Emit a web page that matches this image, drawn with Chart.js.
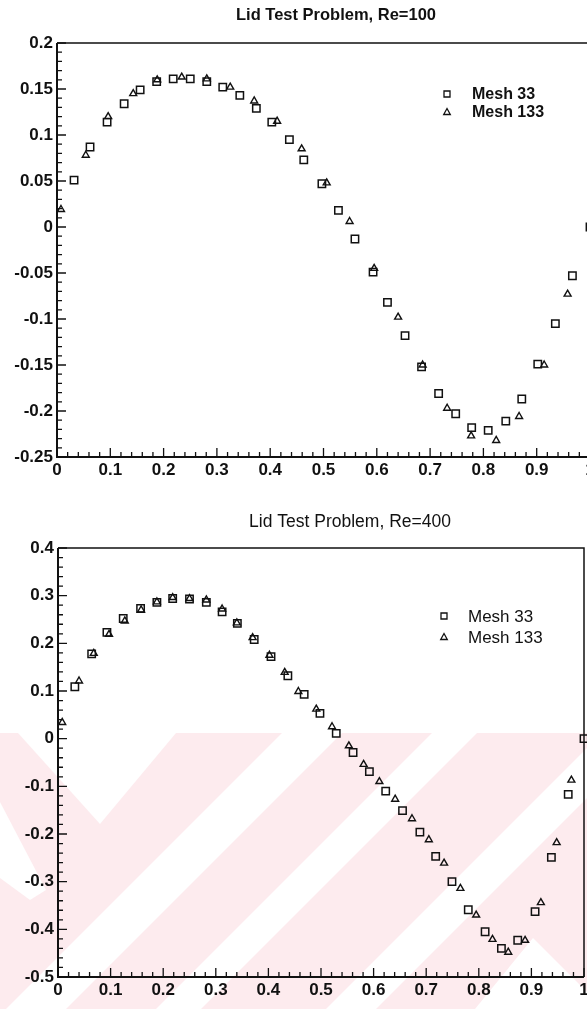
<!DOCTYPE html>
<html>
<head>
<meta charset="utf-8">
<script src="https://cdn.jsdelivr.net/npm/chart.js@4.4.0/dist/chart.umd.min.js"></script>
<style>
  html, body { margin: 0; padding: 0; background: #fff; overflow: hidden; width: 587px; height: 1009px; }
  #wm { position: absolute; left: 0; top: 0; }
  canvas { position: absolute; left: 0; }
  #c100 { top: 0; }
  #c400 { top: 490px; }
</style>
</head>
<body>
<svg id="wm" width="587" height="1009" viewBox="0 0 587 1009">
  <rect x="0" y="733" width="587" height="276" fill="#fdebee"/>
  <g fill="#fff">
    <polygon points="18,733 100,824 176,733"/>
    <polygon points="0,802 46,890 30,900 0,878"/>
    <polygon points="282,733 342,733 66,1009 6,1009"/>
    <polygon points="432,733 477,733 201,1009 156,1009"/>
    <polygon points="587,748 587,798 376,1009 326,1009"/>
    <polygon points="475,1009 533,938 587,992 587,1009"/>
  </g>
</svg>
<canvas id="c100" width="600" height="490"></canvas>
<canvas id="c400" width="600" height="519"></canvas>
<script>
// x ticks shared by both plots
const xTickValues = [0, 0.1, 0.2, 0.3, 0.4, 0.5, 0.6, 0.7, 0.8, 0.9, 1];
const xTickLabels = ['0', '0.1', '0.2', '0.3', '0.4', '0.5', '0.6', '0.7', '0.8', '0.9', '1'];

// Re=100
const re100YTicks = [0.2, 0.15, 0.1, 0.05, 0, -0.05, -0.1, -0.15, -0.2, -0.25];
const re100YLabels = ['0.2', '0.15', '0.1', '0.05', '0', '-0.05', '-0.1', '-0.15', '-0.2', '-0.25'];
const re100Mesh33X = [0.032, 0.062, 0.094, 0.126, 0.156, 0.187, 0.218, 0.250, 0.281, 0.311, 0.343, 0.374, 0.403, 0.436, 0.463, 0.497,
  0.528, 0.559, 0.593, 0.620, 0.653, 0.684, 0.716, 0.748, 0.778, 0.809, 0.842, 0.872, 0.902, 0.935, 0.967, 1.0];
const re100Mesh33Y = [0.051, 0.087, 0.114, 0.134, 0.149, 0.158, 0.161, 0.161, 0.158, 0.152, 0.143, 0.129, 0.114, 0.095, 0.073, 0.047,
  0.018, -0.013, -0.049, -0.082, -0.118, -0.152, -0.181, -0.203, -0.218, -0.221, -0.211, -0.187, -0.149, -0.105, -0.053, 0.0];
const re100Mesh133X = [0.0075, 0.054, 0.096, 0.143, 0.188, 0.234, 0.281, 0.325, 0.370, 0.413, 0.459, 0.506, 0.549, 0.595, 0.640,
  0.686, 0.732, 0.777, 0.824, 0.867, 0.914, 0.958];
const re100Mesh133Y = [0.019, 0.078, 0.120, 0.145, 0.160, 0.163, 0.161, 0.152, 0.137, 0.115, 0.085, 0.048, 0.006, -0.045, -0.098,
  -0.150, -0.197, -0.227, -0.232, -0.206, -0.150, -0.073];

// Re=400
const re400YTicks = [0.4, 0.3, 0.2, 0.1, 0, -0.1, -0.2, -0.3, -0.4, -0.5];
const re400YLabels = ['0.4', '0.3', '0.2', '0.1', '0', '-0.1', '-0.2', '-0.3', '-0.4', '-0.5'];
const re400Mesh33X = [0.032, 0.064, 0.093, 0.124, 0.157, 0.188, 0.218, 0.250, 0.282, 0.312, 0.341, 0.373, 0.405, 0.437, 0.468, 0.498,
  0.529, 0.561, 0.592, 0.623, 0.655, 0.688, 0.718, 0.749, 0.780, 0.812, 0.843, 0.874, 0.907, 0.938, 0.970, 1.0];
const re400Mesh33Y = [0.109, 0.178, 0.223, 0.252, 0.273, 0.286, 0.294, 0.293, 0.286, 0.266, 0.242, 0.208, 0.172, 0.132, 0.093, 0.053,
  0.011, -0.029, -0.069, -0.110, -0.151, -0.196, -0.247, -0.300, -0.359, -0.405, -0.440, -0.423, -0.363, -0.249, -0.117, 0.0];
const re400Mesh133X = [0.008, 0.040, 0.068, 0.097, 0.127, 0.158, 0.188, 0.218, 0.250, 0.282, 0.312, 0.340, 0.370, 0.402, 0.431,
  0.457, 0.491, 0.521, 0.553, 0.581, 0.611, 0.641, 0.673, 0.705, 0.734, 0.765, 0.795, 0.826, 0.856, 0.888, 0.918, 0.948, 0.976];
const re400Mesh133Y = [0.034, 0.121, 0.179, 0.219, 0.247, 0.270, 0.287, 0.296, 0.294, 0.291, 0.272, 0.243, 0.212, 0.175, 0.139,
  0.099, 0.062, 0.025, -0.015, -0.054, -0.090, -0.127, -0.168, -0.212, -0.261, -0.314, -0.370, -0.421, -0.448, -0.423, -0.344, -0.218, -0.087];

const ink = '#111';
const pts = (xs, ys) => xs.map((x, i) => ({ x: x, y: ys[i] }));

// frame, inward ticks, title and legend
const framePlugin = {
  id: 'frame',
  afterDraw(chart, args, o) {
    const { ctx, chartArea: a, scales } = chart;
    ctx.save();
    ctx.strokeStyle = ink;
    ctx.lineWidth = 2;
    ctx.beginPath();
    ctx.moveTo(a.left, a.top); ctx.lineTo(a.left, a.bottom); ctx.lineTo(a.right, a.bottom);
    ctx.stroke();
    ctx.lineWidth = 1.5;
    ctx.beginPath();
    ctx.moveTo(a.left, a.top); ctx.lineTo(a.right, a.top); ctx.lineTo(a.right, a.bottom);
    ctx.stroke();

    const marks = (scale) => {
      const t = scale.ticks.map(k => k.value).sort((p, q) => p - q);
      const out = [];
      for (let i = 0; i < t.length; i++) {
        out.push([t[i], true]);
        if (i < t.length - 1) for (let j = 1; j < 5; j++) out.push([t[i] + (t[i + 1] - t[i]) * j / 5, false]);
      }
      return out;
    };
    ctx.lineWidth = 1.3;
    ctx.beginPath();
    marks(scales.x).forEach(([v, major]) => {
      const px = scales.x.getPixelForValue(v);
      ctx.moveTo(px, a.bottom); ctx.lineTo(px, a.bottom - (major ? 9 : 5));
    });
    marks(scales.y).forEach(([v, major]) => {
      const py = scales.y.getPixelForValue(v);
      ctx.moveTo(a.left, py); ctx.lineTo(a.left + (major ? 9 : 5), py);
    });
    ctx.stroke();

    // title
    ctx.fillStyle = ink;
    ctx.textAlign = 'center';
    ctx.textBaseline = 'alphabetic';
    ctx.font = o.titleFont;
    ctx.fillText(o.title, o.titleX, o.titleY);

    // legend
    ctx.textAlign = 'left';
    ctx.font = o.legendFont;
    ctx.lineWidth = 1.3;
    chart.data.datasets.forEach((ds, i) => {
      const mx = o.legendX, my = o.legendY[i];
      ctx.beginPath();
      if (ds.pointStyle === 'rect') {
        ctx.rect(mx - 3, my - 3, 6, 6);
      } else {
        ctx.moveTo(mx, my - 3.5); ctx.lineTo(mx + 3.3, my + 2.5); ctx.lineTo(mx - 3.3, my + 2.5); ctx.closePath();
      }
      ctx.stroke();
      ctx.fillText(ds.label, o.legendTextX, o.legendTextY[i]);
    });
    ctx.restore();
  }
};

function makeChart(id, cfg) {
  return new Chart(document.getElementById(id), {
    type: 'scatter',
    data: {
      datasets: [
        { label: 'Mesh 33', data: pts(cfg.x33, cfg.y33), pointStyle: 'rect', pointRadius: 5.2,
          borderColor: ink, backgroundColor: 'rgba(0,0,0,0)', pointBorderWidth: 1.5, clip: false },
        { label: 'Mesh 133', data: pts(cfg.x133, cfg.y133), pointStyle: 'triangle', pointRadius: 4,
          borderColor: ink, backgroundColor: 'rgba(0,0,0,0)', pointBorderWidth: 1.4, clip: false }
      ]
    },
    options: {
      responsive: false,
      animation: false,
      events: [],
      layout: { padding: cfg.padding },
      plugins: {
        legend: { display: false },
        title: { display: false },
        tooltip: { enabled: false },
        frame: cfg.frame
      },
      scales: {
        x: {
          type: 'linear', min: 0, max: 1,
          grid: { display: false, drawTicks: false },
          border: { display: false },
          afterBuildTicks: s => { s.ticks = xTickValues.map(v => ({ value: v })); },
          afterFit: s => { s.height = cfg.xHeight; },
          ticks: {
            padding: 3, color: ink, maxRotation: 0, autoSkip: false,
            font: { family: 'Liberation Sans, Arial', size: 17, weight: 'bold' },
            callback: (v, i) => xTickLabels[i]
          }
        },
        y: {
          type: 'linear', min: cfg.yTicks[cfg.yTicks.length - 1], max: cfg.yTicks[0],
          grid: { display: false, drawTicks: false },
          border: { display: false },
          afterBuildTicks: s => { s.ticks = cfg.yTicks.slice().reverse().map(v => ({ value: v })); },
          afterFit: s => { s.width = cfg.yWidth; },
          ticks: {
            padding: 4, color: ink, autoSkip: false,
            font: { family: 'Liberation Sans, Arial', size: 17, weight: 'bold' },
            callback: (v, i) => cfg.yLabels[cfg.yLabels.length - 1 - i]
          }
        }
      }
    },
    plugins: [framePlugin]
  });
}

makeChart('c100', {
  x33: re100Mesh33X, y33: re100Mesh33Y, x133: re100Mesh133X, y133: re100Mesh133Y,
  yTicks: re100YTicks, yLabels: re100YLabels,
  padding: { left: 0, top: 43, right: 10, bottom: 0 }, yWidth: 57, xHeight: 33,
  frame: {
    title: 'Lid Test Problem, Re=100', titleX: 336, titleY: 20, titleFont: 'bold 16.5px "Liberation Sans", Arial',
    legendFont: 'bold 16px "Liberation Sans", Arial', legendX: 447, legendY: [94, 112],
    legendTextX: 472, legendTextY: [99, 117]
  }
});

makeChart('c400', {
  x33: re400Mesh33X, y33: re400Mesh33Y, x133: re400Mesh133X, y133: re400Mesh133Y,
  yTicks: re400YTicks, yLabels: re400YLabels,
  padding: { left: 0, top: 58, right: 16, bottom: 0 }, yWidth: 58, xHeight: 32,
  frame: {
    title: 'Lid Test Problem, Re=400', titleX: 350, titleY: 37, titleFont: '17.5px "Liberation Sans", Arial',
    legendFont: '17px "Liberation Sans", Arial', legendX: 444, legendY: [126, 147],
    legendTextX: 468, legendTextY: [132, 153]
  }
});
</script>
</body>
</html>
